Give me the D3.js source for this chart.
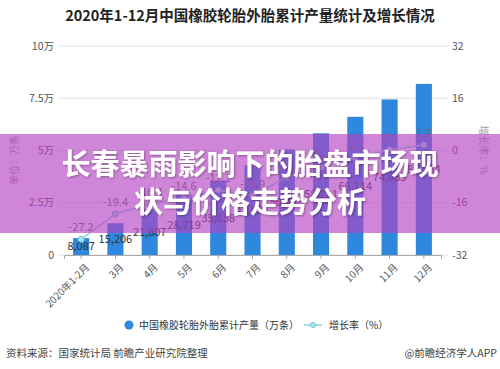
<!DOCTYPE html>
<html><head><meta charset="utf-8">
<script src="https://cdn.jsdelivr.net/npm/d3@7"></script>
<style>
html,body{margin:0;padding:0;background:#fff;}
svg{display:block;font-family:"Noto Sans CJK SC","Noto Sans",sans-serif;}
</style></head>
<body>
<svg id="c" width="500" height="369"></svg>
<script>
const categories = ["2020年1-2月","3月","4月","5月","6月","7月","8月","9月","10月","11月","12月"];
const output = [8087, 15206, 21807, 28719, 35658, 42931, 50486, 58221, 66114, 74433, 81864];
const growth = [-27.2, -19.4, -16.4, -14.6, -12.1, -13.9, -8.1, -5.2, -2.1, 0.2, 1.7];
const leftTicks = [0, 25000, 50000, 75000, 100000];
const leftTickLabels = ["0", "2.5万", "5万", "7.5万", "10万"];
const rightTicks = [-32, -16, 0, 16, 32];

const svg = d3.select("#c");
const W = 500, H = 369;
svg.append("rect").attr("width", W).attr("height", H).attr("fill", "#fff");

svg.append("text").attr("x", 250).attr("y", 21).attr("text-anchor", "middle")
  .attr("font-size", 14.5).attr("font-weight", "bold").attr("fill", "#222")
  .text("2020年1-12月中国橡胶轮胎外胎累计产量统计及增长情况");

const x = d3.scaleBand().domain(categories).range([64, 441]).paddingInner(0.53).paddingOuter(0.265);
const yL = d3.scaleLinear().domain([0, 100000]).range([255, 46]);
const yR = d3.scaleLinear().domain([-32, 32]).range([255, 46]);

// gridlines
svg.append("g").selectAll("line").data(leftTicks).join("line")
  .attr("x1", 58).attr("x2", 448)
  .attr("y1", d => yL(d)).attr("y2", d => yL(d))
  .attr("stroke", "#e3e3e3").attr("stroke-width", 1);

// left axis labels
svg.append("g").selectAll("text").data(leftTicks).join("text")
  .attr("x", 54).attr("y", d => yL(d)).attr("dy", "0.35em")
  .attr("text-anchor", "end").attr("font-size", 10.5).attr("fill", "#555")
  .text((d, i) => leftTickLabels[i]);

// right axis labels
svg.append("g").selectAll("text").data(rightTicks).join("text")
  .attr("x", 452).attr("y", d => yR(d)).attr("dy", "0.35em")
  .attr("text-anchor", "start").attr("font-size", 10.5).attr("fill", "#555")
  .text(d => d);

// axis titles
svg.append("text").attr("transform", "translate(18,160) rotate(-90)")
  .attr("text-anchor", "middle").attr("font-size", 10).attr("fill", "#999")
  .text("单位：万条");
svg.append("text").attr("transform", "translate(480,150) rotate(90)")
  .attr("text-anchor", "middle").attr("font-size", 10).attr("fill", "#999")
  .text("增长率：%");

// bars
svg.append("g").selectAll("rect").data(output).join("rect")
  .attr("x", (d, i) => x(categories[i])).attr("width", x.bandwidth())
  .attr("y", d => yL(d)).attr("height", d => yL(0) - yL(d))
  .attr("fill", "#2e88dd");

// x axis
const xAxis = d3.axisBottom(x).tickSize(4).tickFormat("");
const gx = svg.append("g").attr("transform", "translate(0,255)").call(xAxis);
gx.select(".domain").attr("stroke", "#aaa");
gx.selectAll(".tick line").attr("stroke", "#aaa");
svg.append("g").selectAll("text").data(categories).join("text")
  .attr("transform", d => `translate(${x(d) + x.bandwidth() / 2 + 4},263) rotate(-45)`)
  .attr("text-anchor", "end").attr("dy", "0.7em")
  .attr("font-size", 10).attr("fill", "#555").text(d => d);

// bar value labels
svg.append("g").selectAll("text").data(output).join("text")
  .attr("x", (d, i) => x(categories[i]) + x.bandwidth() / 2)
  .attr("y", d => (yL(d) + yL(0)) / 2).attr("dy", "0.35em")
  .attr("text-anchor", "middle").attr("font-size", 11).attr("fill", "#333")
  .text(d => d3.format(",")(d));

// growth line
const line = d3.line().x((d, i) => x(categories[i]) + x.bandwidth() / 2).y(d => yR(d));
svg.append("path").datum(growth).attr("d", line)
  .attr("fill", "none").attr("stroke", "#8fd3e0").attr("stroke-width", 1.5);
svg.append("g").selectAll("circle").data(growth).join("circle")
  .attr("cx", (d, i) => x(categories[i]) + x.bandwidth() / 2).attr("cy", d => yR(d))
  .attr("r", 3).attr("fill", "#a8e2ec").attr("stroke", "#74c6d6").attr("stroke-width", 1);
svg.append("g").selectAll("text").data(growth).join("text")
  .attr("x", (d, i) => x(categories[i]) + x.bandwidth() / 2)
  .attr("y", d => yR(d) - 8)
  .attr("text-anchor", "middle").attr("font-size", 11).attr("fill", "#666")
  .text(d => d);

// legend
svg.append("circle").attr("cx", 129).attr("cy", 325).attr("r", 4.5).attr("fill", "#2e88dd");
svg.append("text").attr("x", 139).attr("y", 325).attr("dy", "0.35em")
  .attr("font-size", 10).attr("fill", "#333").text("中国橡胶轮胎外胎累计产量（万条）");
svg.append("line").attr("x1", 304).attr("x2", 322).attr("y1", 325).attr("y2", 325)
  .attr("stroke", "#8fd3e0").attr("stroke-width", 1.5);
svg.append("circle").attr("cx", 313).attr("cy", 325).attr("r", 2.5)
  .attr("fill", "#a8e2ec").attr("stroke", "#74c6d6");
svg.append("text").attr("x", 329).attr("y", 325).attr("dy", "0.35em")
  .attr("font-size", 10).attr("fill", "#333").text("增长率（%）");

// footer
svg.append("text").attr("x", 6).attr("y", 353).attr("dy", "0.35em")
  .attr("font-size", 10.5).attr("fill", "#444").text("资料来源：国家统计局 前瞻产业研究院整理");
svg.append("text").attr("x", 497).attr("y", 353).attr("dy", "0.35em").attr("text-anchor", "end")
  .attr("font-size", 10.5).attr("fill", "#444").text("@前瞻经济学人APP");

// overlay banner
svg.append("rect").attr("x", 0).attr("y", 134).attr("width", W).attr("height", 99)
  .attr("fill", "rgb(180,66,194)").attr("fill-opacity", 0.64);
const defs = svg.append("defs");
const f = defs.append("filter").attr("id", "sh").attr("x", "-10%").attr("y", "-30%").attr("width", "120%").attr("height", "160%");
f.append("feDropShadow").attr("dx", 1).attr("dy", 1).attr("stdDeviation", 1).attr("flood-color", "#000").attr("flood-opacity", 0.35);
const titleLines = ["长春暴雨影响下的胎盘市场现", "状与价格走势分析"];
svg.append("g").attr("filter", "url(#sh)").selectAll("text").data(titleLines).join("text")
  .attr("x", 250).attr("y", (d, i) => 165 + i * 38).attr("dy", "0.36em")
  .attr("text-anchor", "middle").attr("font-size", 29).attr("font-weight", "bold")
  .attr("fill", "#fff").text(d => d);
</script>
</body></html>
